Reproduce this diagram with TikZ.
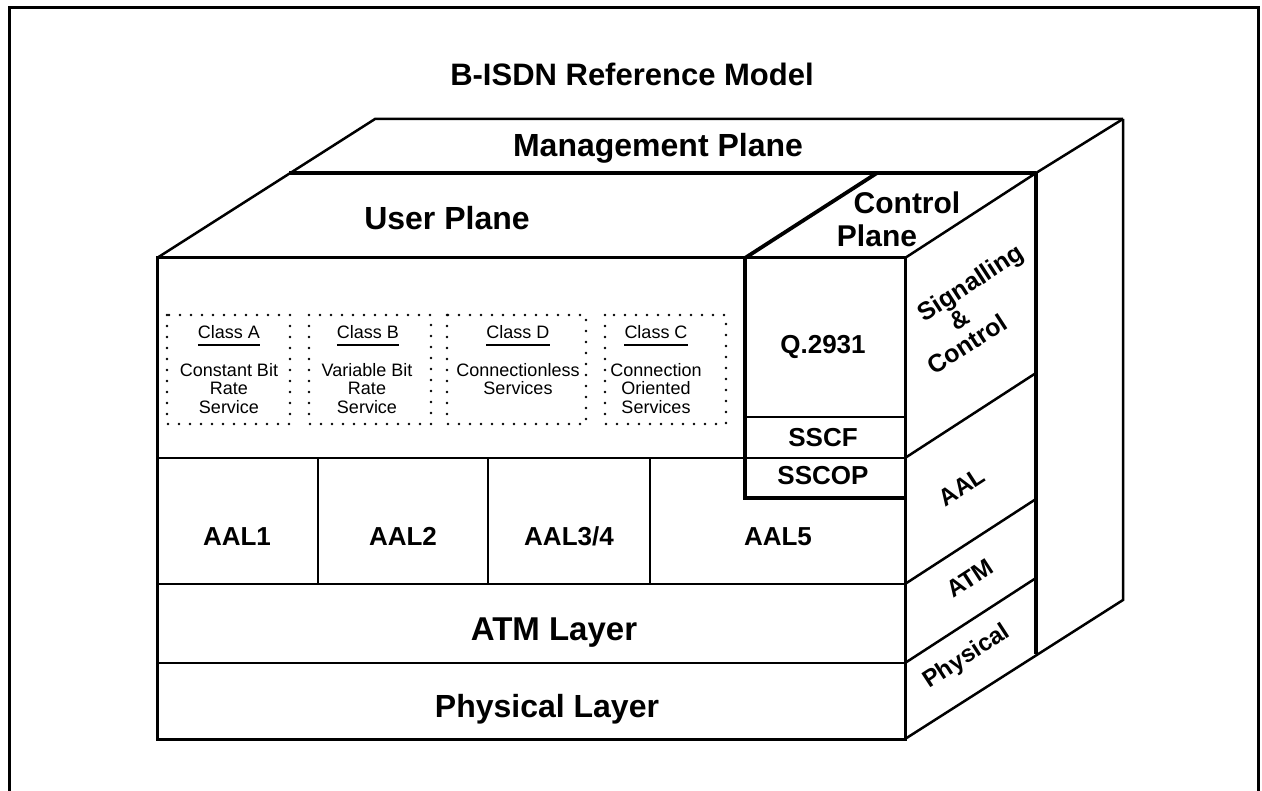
\documentclass[tikz,border=0pt]{standalone}
\usepackage{fontspec}
\setmainfont{Liberation Sans}
\newcommand\setfs[2]{\fontsize{#1}{#2}\selectfont}
\begin{document}
\begin{tikzpicture}[x=1pt,y=-1pt,
  edge/.style={line width=2.5pt},
  heavy/.style={line width=3.8pt},
  frame/.style={line width=3pt},
  dotbox/.style={line width=2.6pt, line cap=round, dash pattern=on 0pt off 11pt},
  uline/.style={line width=2pt},
  lbl/.style={inner sep=0pt, anchor=base, font=\bfseries\setfs{32}{36}},
  midlbl/.style={inner sep=0pt, anchor=base, font=\bfseries\setfs{26}{30}},
  sidelbl/.style={inner sep=0pt, rotate=33, font=\bfseries\setfs{24}{25}},
  clstitle/.style={inner sep=0pt, anchor=base, font=\setfs{18}{18.5}},
  clsbody/.style={inner sep=0pt, anchor=north, align=center, font=\setfs{18}{18.5}}]
\useasboundingbox (0,0) rectangle (1262,791);

% outer frame (open at the bottom)
\draw[frame] (9,800) -- (9,8) -- (1258,8) -- (1258,800);

% corner points of the block
\coordinate (ftl) at (157,258);
\coordinate (ftr) at (905,258);
\coordinate (fbl) at (157,739);
\coordinate (fbr) at (905,739);
\coordinate (btl) at (375,119);
\coordinate (btr) at (1123,119);
\coordinate (bbr) at (1123,600);
\coordinate (mtl) at (289,173);
\coordinate (mtr) at (1036,173);
\coordinate (mbr) at (1036,654);
\coordinate (ctl) at (745,258);
\coordinate (ctb) at (877,173);

% top face
\draw[edge] (ftl) -- (btl) -- (btr);
\draw[heavy] (mtl) -- (mtr);
\draw[heavy] (ctl) -- (ctb);
\draw[edge] (ftr) -- (mtr) -- (btr);

% right side faces
\draw[edge] (btr) -- (bbr) -- (fbr);
\draw[heavy] (mtr) -- (mbr);
\draw[edge] (905,458) -- (1036,373);
\draw[edge] (905,584) -- (1036,499);
\draw[edge] (905,663) -- (1036,578);

% front face
\draw[frame] (ftl) rectangle (fbr);
\draw[edge] (157,458) -- (905,458);
\draw[edge] (157,584) -- (905,584);
\draw[edge] (157,663) -- (905,663);
\draw[edge] (318,458) -- (318,584);
\draw[edge] (488,458) -- (488,584);
\draw[edge] (650,458) -- (650,584);

% control plane stack
\draw[heavy] (745,258) -- (745,498) -- (905,498);
\draw[edge] (745,417) -- (905,417);

% service class boxes
\draw[dotbox] (167,315) rectangle (290,424);
\draw[dotbox] (309,315) rectangle (431,424);
\draw[dotbox] (447,315) rectangle (586,424);
\draw[dotbox] (605,315) rectangle (726,424);

\node[clstitle] (ca) at (229,339) {Class A};
\node[clstitle] (cb) at (368,339) {Class B};
\node[clstitle] (cd) at (518,339) {Class D};
\node[clstitle] (cc) at (656,339) {Class C};
\foreach \n in {ca,cb,cd,cc}
  \draw[uline] ([yshift=-6pt]\n.base west) -- ([yshift=-6pt]\n.base east);

\node[clsbody] (sa) at (229,363) {Constant Bit\\Rate\\Service};
\node[clsbody] (sb) at (367,363) {Variable Bit\\Rate\\Service};
\node[clsbody] (sd) at (518,363) {Connectionless\\Services};
\node[clsbody] (sc) at (656,363) {Connection\\Oriented\\Services};

% labels
\node[lbl, font=\bfseries\setfs{31}{35}] (title) at (632,86) {B-ISDN Reference Model};
\node[lbl] (mgmt) at (658,157) {Management Plane};
\node[lbl] (user) at (447,230) {User Plane};
\node[lbl, font=\bfseries\setfs{30}{34}] (ctrla) at (907,214) {Control};
\node[lbl, font=\bfseries\setfs{30}{34}] (ctrlb) at (877,247) {Plane};

\node[midlbl] (q) at (823,354) {Q.2931};
\node[midlbl] (sscf) at (823,447) {SSCF};
\node[midlbl] (sscop) at (823,485) {SSCOP};

\node[midlbl] (aal1) at (237,545) {AAL1};
\node[midlbl] (aal2) at (403,545) {AAL2};
\node[midlbl] (aal34) at (569,545) {AAL3/4};
\node[midlbl] (aal5) at (778,545) {AAL5};

\node[lbl, font=\bfseries\setfs{33}{36}] (atml) at (554,640) {ATM Layer};
\node[lbl] (phyl) at (547,717) {Physical Layer};

% labels on the side of the control plane
\node[sidelbl, align=left, font=\bfseries\setfs{25}{25}] (sig) at (975,309)
  {\hspace*{21pt}Signalling\\\hspace*{42pt}\&\\Control};
\node[sidelbl] (saal) at (962,487) {AAL};
\node[sidelbl] (satm) at (970,578) {ATM};
\node[sidelbl] (sphy) at (967,657) {Physical};
\end{tikzpicture}
\end{document}
